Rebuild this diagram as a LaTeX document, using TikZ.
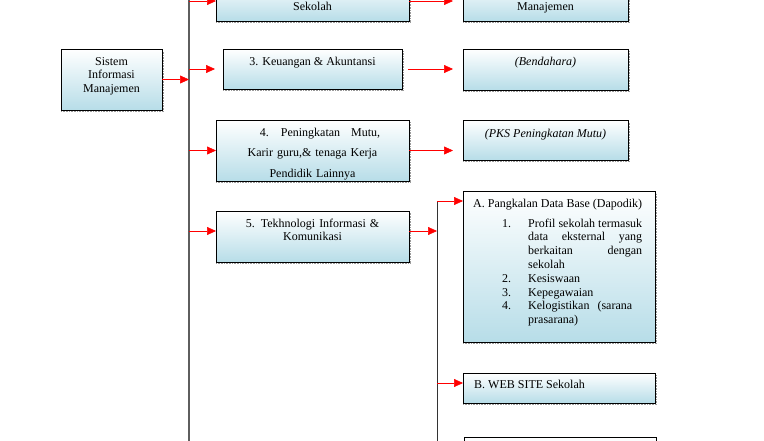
\documentclass[tikz,border=0pt]{standalone}
\usepackage{fontspec}
\setmainfont{Liberation Serif}
\usetikzlibrary{arrows.meta,calc}
\definecolor{panelblue}{HTML}{B7DDE8}
\definecolor{linkred}{HTML}{FF0000}
\definecolor{railgrey}{HTML}{5E5E5E}
\definecolor{dotgrey}{HTML}{9A9A9A}

\tikzset{
 panel/.style={draw=black,line width=0.8pt,top color=white,bottom color=panelblue,
  anchor=north west,inner sep=0pt,outer sep=0pt},
 lbl/.style={anchor=base,inner sep=0pt,align=center,font=\fontsize{12}{13.8}\selectfont},
 link/.style={draw=linkred,line width=0.6pt,-{Triangle[length=9pt,width=8pt]}},
 rail/.style={draw=railgrey,line width=1.2pt},
 dropline/.style={draw=dotgrey,densely dotted,line width=0.6pt}
}

\begin{document}
\begin{tikzpicture}[x=1pt,y=1pt]
\useasboundingbox (0,0) rectangle (764,-440);
\clip (0,0) rectangle (764,-440);

% rails
\coordinate (railtop) at (189,10);
\coordinate (railbot) at (189,-450);
\coordinate (r2top) at (437,-201);
\coordinate (r2bot) at (437,-450);
\draw[rail] (railtop) -- (railbot);
\draw[draw=black!80,line width=1pt] (r2top) -- (r2bot);

% boxes
\node[panel,minimum width=101pt,minimum height=61pt] (sim) at (61,-49) {};
\node[panel,minimum width=193pt,minimum height=40pt] (b2) at (216,19) {};
\node[panel,minimum width=165pt,minimum height=40pt] (m2) at (463,19) {};
\node[panel,minimum width=179pt,minimum height=40pt] (b3) at (223,-49) {};
\node[panel,minimum width=165pt,minimum height=41pt] (r3) at (463,-49) {};
\node[panel,minimum width=193pt,minimum height=61pt] (b4) at (216,-120) {};
\node[panel,minimum width=165pt,minimum height=40pt] (r4) at (463,-120) {};
\node[panel,minimum width=193pt,minimum height=51pt] (b5) at (216,-211) {};
\node[panel,minimum width=192pt,minimum height=151pt] (ba) at (463,-191) {};
\node[panel,minimum width=192pt,minimum height=30pt] (bb) at (463,-373) {};
\node[panel,minimum width=192pt,minimum height=60pt] (bc) at (464,-437) {};

\foreach \b in {sim,b2,m2,b3,r3,b4,r4,b5,ba,bb}
  \draw[dropline] ([yshift=-1.5pt]\b.south west) -- ([shift={(1.5pt,-1.5pt)}]\b.south east)
    -- ([shift={(1.5pt,-2pt)}]\b.north east);

% texts
\node[lbl,text width=95pt] (simtxt) at ($(sim.north)+(0,-16)$) {Sistem\\Informasi\\Manajemen};
\node[lbl] (b2txt) at ($(b2.south)+(0,11)$) {Sekolah};
\node[lbl] (m2txt) at ($(m2.south)+(0,11)$) {Manajemen};
\node[lbl] (b3txt) at ($(b3.north)+(0,-16)$) {3. Keuangan \& Akuntansi};
\node[lbl] (r3txt) at ($(r3.north)+(0,-16)$) {\textit{(Bendahara)}};
\node[lbl,text width=185pt,font=\fontsize{12}{20.5}\selectfont] (b4txt) at ($(b4.north)+(0,-16)$)
 {\hspace*{15pt}4.\hspace{12pt}Peningkatan\hspace{11pt}Mutu,\\Karir guru,\& tenaga Kerja\\Pendidik Lainnya};
\node[lbl] (r4txt) at ($(r4.north)+(0,-17)$) {\textit{(PKS Peningkatan Mutu)}};
\node[lbl,text width=185pt] (b5txt) at ($(b5.north)+(0,-16)$) {5. Tekhnologi Informasi \&\\Komunikasi};
\node[lbl,anchor=base west] (batxt) at (473,-207) {A. Pangkalan Data Base (Dapodik)};
\node[lbl,anchor=base west,text width=140pt,align=left] (balist) at (502,-227)
 {\makebox[26pt][l]{1.}\makebox[114pt][l]{Profil\hfill sekolah\hfill termasuk}\\
  \hspace*{26pt}\makebox[114pt][l]{data\hfill eksternal\hfill yang}\\
  \hspace*{26pt}\makebox[114pt][l]{berkaitan\hfill dengan}\\
  \hspace*{26pt}sekolah\\
  \makebox[26pt][l]{2.}Kesiswaan\\
  \makebox[26pt][l]{3.}Kepegawaian\\
  \makebox[26pt][l]{4.}Kelogistikan\ \ (sarana\\
  \hspace*{26pt}prasarana)};
\node[lbl,anchor=base west] (bbtxt) at (474,-388) {B. WEB SITE Sekolah};

% connectors
\draw[link] (sim.east) -- (sim.east -| railtop);
\draw[link] (b2.west -| railtop) -- (b2.west);
\draw[link,shorten >=10pt] (b2.east) -- (b2.east -| m2.west);
\draw[link,shorten >=8pt] (b3.west -| railtop) -- (b3.west);
\draw[link,shorten <=6pt,shorten >=10pt] (b3.east) -- (b3.east -| r3.west);
\draw[link] (b4.west -| railtop) -- (b4.west);
\draw[link,shorten >=10pt] (b4.east) -- (b4.east -| r4.west);
\draw[link] ([yshift=5.5pt]b5.west -| railtop) -- ([yshift=5.5pt]b5.west);
\draw[link] ([yshift=5.5pt]b5.east) -- ([yshift=5.5pt]b5.east -| r2top);
\draw[link] (r2top) -- (r2top -| ba.west);
\draw[link] ([yshift=5pt]bb.west -| r2top) -- ([yshift=5pt]bb.west);
\end{tikzpicture}
\end{document}
